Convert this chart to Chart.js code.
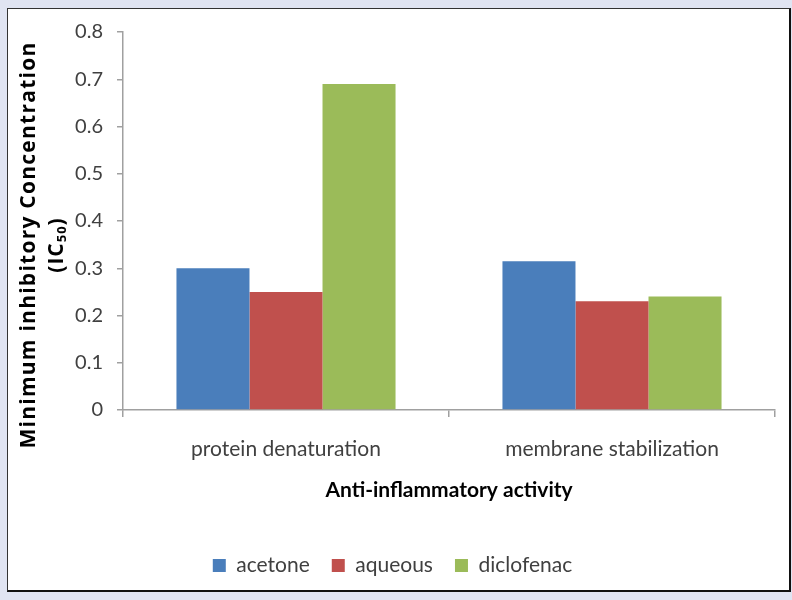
<!DOCTYPE html>
<html>
<head>
<meta charset="utf-8">
<script src="https://cdn.jsdelivr.net/npm/chart.js@4/dist/chart.umd.min.js"></script>
<style>
  html, body { margin: 0; padding: 0; background: #e0e4f2; }
  #frame { position: absolute; left: 7px; top: 8px; width: 781px; height: 581px;
           background: #ffffff; border-top: 1px solid #333; border-left: 1px solid #333;
           border-right: 2px solid #111; border-bottom: 2px solid #111; }
  #c { position: absolute; left: 0; top: 0; }
</style>
</head>
<body>
<div id="frame"></div>
<canvas id="c" width="792" height="600"></canvas>
<script>
const categories = ['protein denaturation', 'membrane stabilization'];
const acetone = [0.30, 0.315];
const aqueous = [0.25, 0.23];
const diclofenac = [0.69, 0.24];
const seriesNames = ['acetone', 'aqueous', 'diclofenac'];
const yTitleLine1 = 'Minimum inhibitory Concentration';
const yTitleLine2 = ['(IC', '50', ')'];
const xTitle = 'Anti-inflammatory activity';

const FONT = 'Lato';
const TITLE_FONT = '"Open Sans"';

const yTitlePlugin = {
  id: 'yTitle',
  afterDraw(chart) {
    const ctx = chart.ctx;
    const cy = 245;
    ctx.save();
    ctx.fillStyle = '#000';
    ctx.textBaseline = 'middle';
    // line 1
    ctx.save();
    ctx.translate(29, cy);
    ctx.rotate(-Math.PI / 2);
    ctx.font = 'bold 21px ' + TITLE_FONT;
    ctx.letterSpacing = '1.25px';
    ctx.textAlign = 'left';
    const wl = ctx.measureText(yTitleLine1).width;
    ctx.fillText(yTitleLine1, -wl / 2, 0);
    ctx.restore();
    // line 2 with subscript
    ctx.save();
    ctx.translate(57, cy);
    ctx.rotate(-Math.PI / 2);
    ctx.letterSpacing = '1px';
    const big = 'bold 21px ' + TITLE_FONT, small = 'bold 13px ' + TITLE_FONT;
    ctx.font = big; const w1 = ctx.measureText(yTitleLine2[0]).width;
    const w3 = ctx.measureText(yTitleLine2[2]).width;
    ctx.font = small; const w2 = ctx.measureText(yTitleLine2[1]).width;
    let x = -(w1 + w2 + w3) / 2;
    ctx.textAlign = 'left';
    ctx.font = big; ctx.fillText(yTitleLine2[0], x, 0); x += w1;
    ctx.font = small; ctx.fillText(yTitleLine2[1], x, 5); x += w2;
    ctx.font = big; ctx.fillText(yTitleLine2[2], x, 0);
    ctx.restore();
    ctx.restore();
  }
};

new Chart(document.getElementById('c'), {
  type: 'bar',
  data: {
    labels: categories,
    datasets: [
      { label: seriesNames[0], data: acetone, backgroundColor: '#4a7ebb' },
      { label: seriesNames[1], data: aqueous, backgroundColor: '#c0504d' },
      { label: seriesNames[2], data: diclofenac, backgroundColor: '#9bbb59' }
    ]
  },
  options: {
    responsive: false,
    animation: false,
    layout: { padding: { left: 10, right: 17, top: 32, bottom: 14 } },
    datasets: { bar: { categoryPercentage: 0.672, barPercentage: 1.0, borderWidth: 0 } },
    plugins: {
      legend: {
        position: 'bottom',
        labels: {
          boxWidth: 13, boxHeight: 13, padding: 22,
          color: '#404040', font: { family: FONT, size: 21 }
        }
      },
      tooltip: { enabled: false }
    },
    scales: {
      x: {
        afterFit(s) { s.height = 123; },
        grid: { display: true, drawOnChartArea: false, drawTicks: true, tickLength: 7, offset: true, color: '#a0a0a0', lineWidth: 1.5 },
        border: { display: true, color: '#a0a0a0', width: 1.5 },
        ticks: { color: '#404040', padding: 20, font: { family: FONT, size: 21 }, maxRotation: 0 },
        title: { display: true, text: xTitle, color: '#000', font: { family: FONT, size: 21, weight: 'bold' }, padding: { top: 0, bottom: 30 } }
      },
      y: {
        min: 0, max: 0.8,
        afterFit(s) { s.width = 113; },
        grid: { display: true, drawOnChartArea: false, drawTicks: true, tickLength: 6, color: '#a0a0a0', lineWidth: 1.5 },
        border: { display: true, color: '#a0a0a0', width: 1.5 },
        ticks: {
          stepSize: 0.1, padding: 14, color: '#404040', font: { family: FONT, size: 20 },
          callback: v => (Math.abs(v) < 1e-9 ? '0' : v.toFixed(1))
        }
      }
    }
  },
  plugins: [yTitlePlugin]
});
</script>
</body>
</html>
